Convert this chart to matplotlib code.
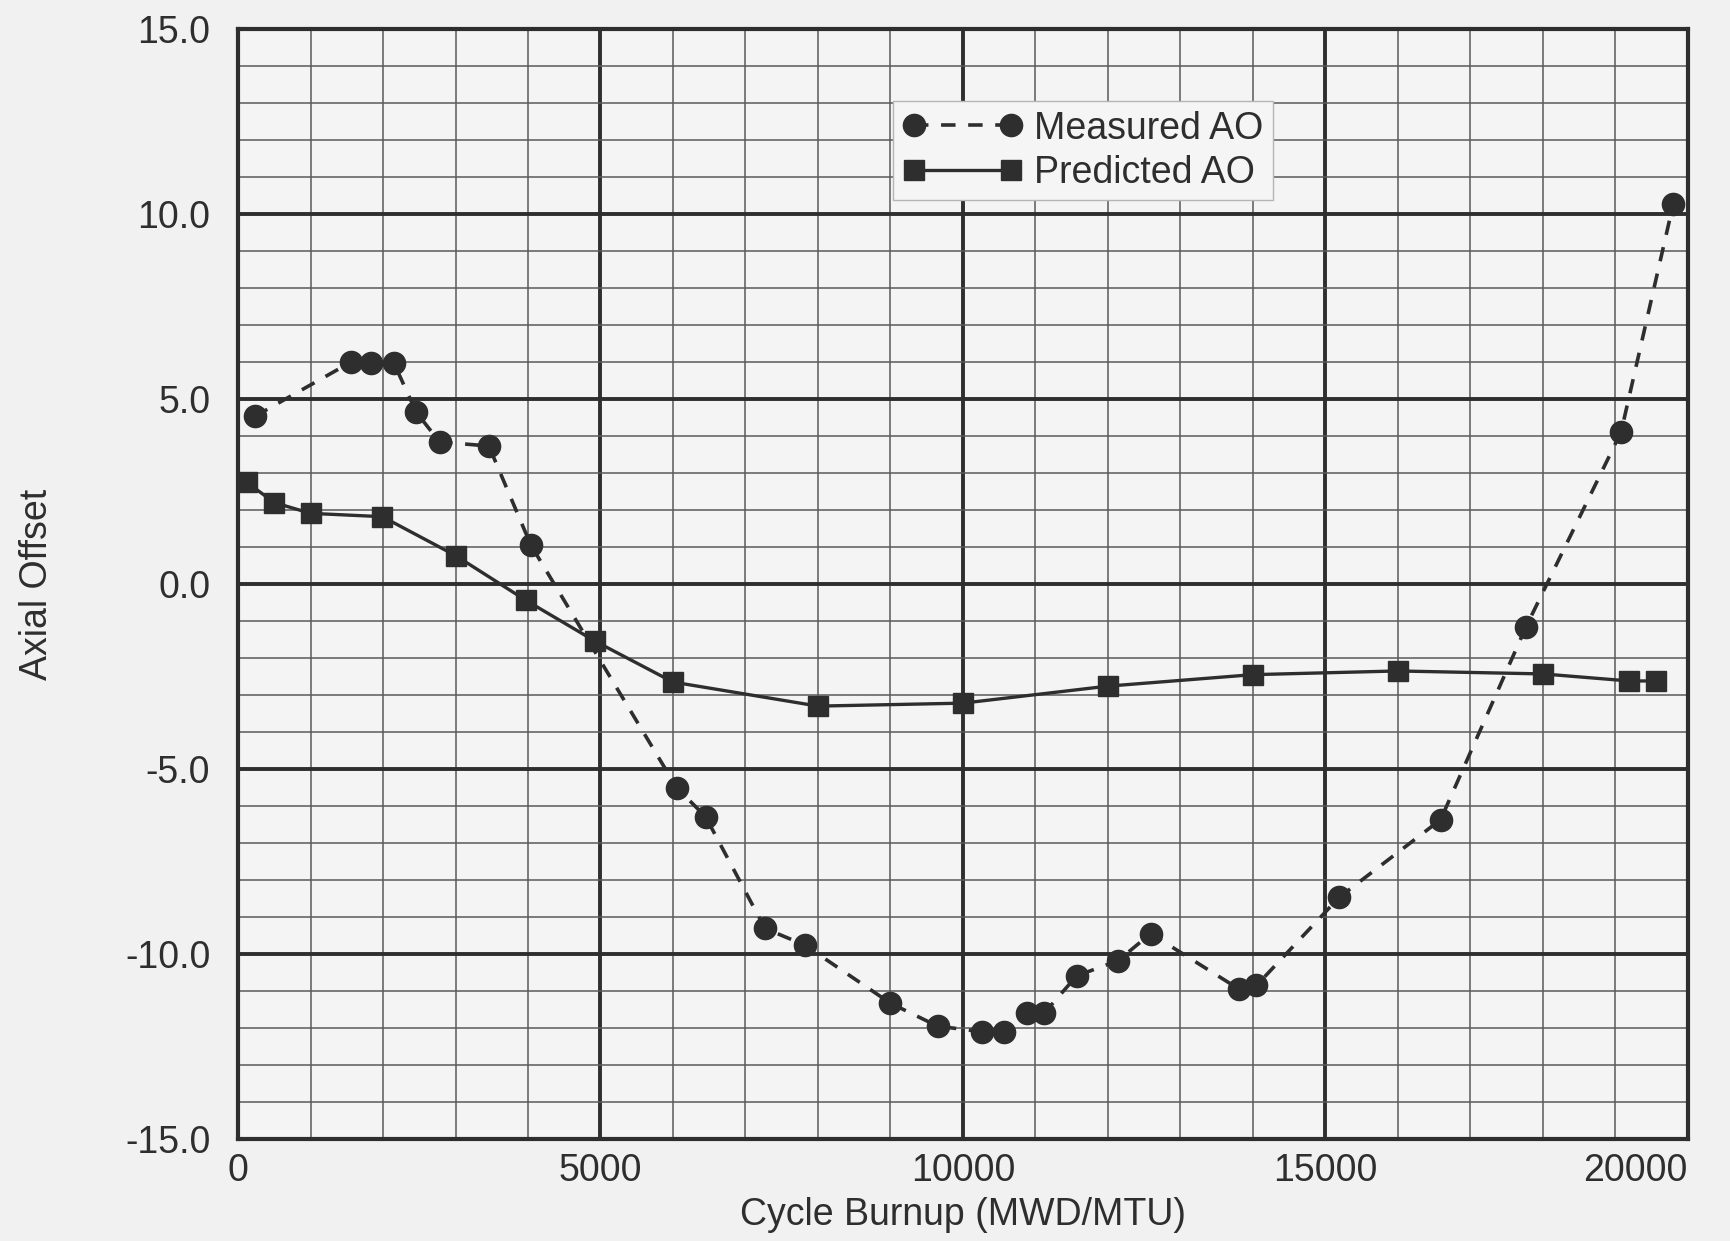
# Axial offset vs cycle burnup: measured AO against predicted AO
import matplotlib
matplotlib.use('Agg')
import matplotlib.pyplot as plt
from matplotlib.ticker import MultipleLocator, FormatStrFormatter

# Measured AO (circles, dashed line)
measured_burnup = [230, 1560, 1830, 2150, 2460, 2780, 3460, 4040, 6050, 6450,
                   7270, 7820, 9000, 9650, 10260, 10570, 10880, 11120, 11570, 12140,
                   12590, 13810, 14050, 15190, 16590, 17770, 19080, 19800]
measured_ao = [4.53, 6.0, 5.97, 5.97, 4.64, 3.84, 3.73, 1.05, -5.5, -6.29,
               -9.31, -9.76, -11.33, -11.95, -12.1, -12.1, -11.6, -11.6, -10.59, -10.18,
               -9.45, -10.95, -10.85, -8.47, -6.37, -1.15, 4.11, 10.28]

# Predicted AO (squares, solid line)
predicted_burnup = [120, 500, 1000, 1990, 3000, 3970, 4930, 6000, 8000, 10000,
                    12000, 14000, 16000, 18000, 19190, 19560]
predicted_ao = [2.75, 2.2, 1.91, 1.82, 0.77, -0.44, -1.55, -2.65, -3.3, -3.22,
                -2.76, -2.45, -2.35, -2.43, -2.62, -2.62]

x_ticks = [0, 5000, 10000, 15000, 20000]
y_ticks = [-15.0, -10.0, -5.0, 0.0, 5.0, 10.0, 15.0]

plt.rcParams['font.family'] = ['Liberation Sans', 'DejaVu Sans']
plt.rcParams['axes.unicode_minus'] = False

ink = '#2e2e2e'
paper = '#f1f1f1'
fs = 27

fig = plt.figure(figsize=(17.3, 12.41), dpi=100, facecolor=paper)
ax = fig.add_axes([0.1376, 0.0822, 0.838, 0.8944])
ax.set_facecolor('#f4f4f4')

ax.plot(measured_burnup, measured_ao, color=ink, linewidth=2.6, dashes=(4, 3.5),
        marker='o', markersize=16, markerfacecolor=ink, markeredgecolor=ink,
        label='Measured AO', zorder=4)
ax.plot(predicted_burnup, predicted_ao, color=ink, linewidth=2.4,
        marker='s', markersize=15, markerfacecolor=ink, markeredgecolor=ink,
        label='Predicted AO', zorder=4)

ax.set_xlim(0, 20000)
ax.set_ylim(-15, 15)
ax.set_xticks(x_ticks)
ax.set_yticks(y_ticks)
ax.yaxis.set_major_formatter(FormatStrFormatter('%.1f'))
ax.xaxis.set_minor_locator(MultipleLocator(1000))
ax.yaxis.set_minor_locator(MultipleLocator(1))

# graph paper grid
ax.grid(which='major', color=ink, linewidth=2.8)
ax.grid(which='minor', color='#5a5a5a', linewidth=1.1)
ax.set_axisbelow(True)
for spine in ax.spines.values():
    spine.set_color(ink)
    spine.set_linewidth(3)

ax.tick_params(which='both', length=0, colors=ink, labelsize=fs)
ax.tick_params(axis='y', pad=20)
ax.tick_params(axis='x', pad=10)
# last x label sits inside the right edge, as on the original sheet
x_labels = ax.get_xticklabels()
x_labels[-1].set_horizontalalignment('right')

ax.set_xlabel('Cycle Burnup (MWD/MTU)', fontsize=fs, color=ink)
ax.set_ylabel('Axial Offset', fontsize=fs, color=ink)
ax.xaxis.set_label_coords(0.5, -0.052)
ax.yaxis.set_label_coords(-0.126, 0.5)

leg = ax.legend(loc='upper left', bbox_to_anchor=(0.452, 0.935), borderaxespad=0,
                fontsize=fs, numpoints=2, handlelength=3.2, handletextpad=0.3,
                borderpad=0.25, labelspacing=0.22, fancybox=False, framealpha=1,
                facecolor='#f5f5f5', edgecolor='#b5b5b5')
for text in leg.get_texts():
    text.set_color(ink)

plt.savefig('out.png', dpi=100, facecolor=paper)
plt.close()
